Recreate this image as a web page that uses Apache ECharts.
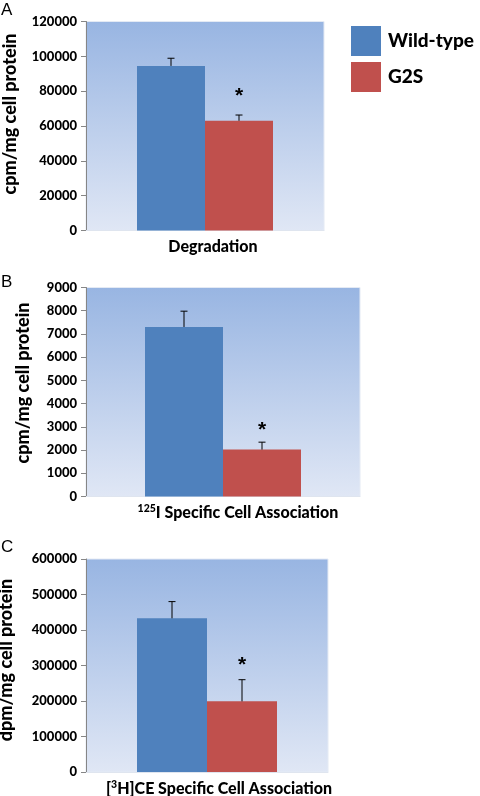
<!DOCTYPE html>
<html><head><meta charset="utf-8">
<script src="https://cdn.jsdelivr.net/npm/echarts@6/dist/echarts.min.js"></script>
<style>html,body{margin:0;padding:0;background:#fff}#c{width:480px;height:796px}</style>
</head><body><div id="c"></div>
<script>
// ---- data ----
const panelLetters = ['A', 'B', 'C'];
const categories = ['Degradation', '125I Specific Cell Association', '[3H]CE Specific Cell Association'];
const yAxisTitles = ['cpm/mg cell protein', 'cpm/mg cell protein', 'dpm/mg cell protein'];
const seriesNames = ['Wild-type', 'G2S'];
const wildType = [94500, 7300, 433000];
const wildTypeErr = [4400, 680, 47000];
const g2s = [63000, 2020, 199000];
const g2sErr = [3300, 320, 61000];
const sigMarkAt = [77000, 2850, 301000];
const yMax = [120000, 9000, 600000];
const yStep = [20000, 1000, 100000];

// ---- layout ----
const grids = [
  {left: 86, top: 21.5, width: 238, height: 209},
  {left: 86, top: 287.5, width: 274, height: 209},
  {left: 86, top: 559, width: 242, height: 213}
];
const barWidths = [68, 78, 70];
const labelShift = [16, 30, 24];
const nameGaps = [67, 54, 71];
const nameShiftUp = [24, 18, 11];
const letterTops = [2, 274, 539];
const colors = ['#4f81bd', '#c0504d'];
const FONT = 'Lato, "Open Sans", sans-serif';
const W = 900;

const bg = {
  type: 'linear', x: 0, y: 0, x2: 0, y2: 1,
  colorStops: [{offset: 0, color: '#98b5e2'}, {offset: 1, color: '#e0e7f5'}]
};

const catFormatter = [
  v => '{t|' + v + '}',
  v => '{sup|125}{t|I Specific Cell Association}',
  v => '{t|[}{sup|3}{t|H]CE Specific Cell Association}'
];

const option = {
  animation: false,
  backgroundColor: '#fff',
  legend: {
    data: seriesNames,
    orient: 'vertical',
    left: 346, top: 21,
    itemWidth: 30, itemHeight: 30, itemGap: 6,
    icon: 'rect',
    textStyle: {fontFamily: FONT, fontWeight: W, fontSize: 19, color: '#000', padding: [0, 0, 4, 2]}
  },
  graphic: panelLetters.map((l, i) => ({
    type: 'text', left: 1, top: letterTops[i],
    style: {text: l, font: '17px "Liberation Sans", Arial, sans-serif', fill: '#000'}
  })),
  grid: grids.map(g => Object.assign({show: true, containLabel: false, outerBoundsMode: 'none',
    backgroundColor: bg, borderColor: '#e4eaf4', borderWidth: 1}, g)),
  xAxis: grids.map((g, i) => ({
    type: 'category', gridIndex: i, data: [categories[i]],
    axisLine: {lineStyle: {color: '#dfe5ef'}},
    axisTick: {show: false},
    axisLabel: {
      margin: 7, interval: 0, formatter: catFormatter[i],
      padding: [0, 0, 0, labelShift[i]],
      rich: {
        t: {fontFamily: FONT, fontWeight: W, fontSize: 16, color: '#000', lineHeight: 19},
        sup: {fontFamily: FONT, fontWeight: W, fontSize: 10.5, color: '#000', verticalAlign: 'top', lineHeight: 12, padding: [0, 0, 6, 0]}
      }
    }
  })),
  yAxis: grids.map((g, i) => ({
    type: 'value', gridIndex: i, min: 0, max: yMax[i], interval: yStep[i],
    name: yAxisTitles[i], nameLocation: 'middle', nameRotate: 90, nameGap: nameGaps[i],
    nameTextStyle: {fontFamily: FONT, fontWeight: W, fontSize: 18, color: '#000',
      padding: [0, 0, 0, nameShiftUp[i]]},
    axisLine: {show: true, lineStyle: {color: '#868686'}},
    axisTick: {show: true, length: 5, lineStyle: {color: '#868686'}},
    splitLine: {show: false},
    axisLabel: {fontFamily: FONT, fontWeight: W, fontSize: 13, color: '#000', margin: 9,
      formatter: v => String(v)}
  })),
  series: []
};

grids.forEach((g, i) => {
  const vals = [wildType[i], g2s[i]];
  seriesNames.forEach((n, s) => {
    option.series.push({
      type: 'bar', name: n, xAxisIndex: i, yAxisIndex: i,
      data: [vals[s]], barWidth: barWidths[i], barGap: '0%',
      itemStyle: {color: colors[s]}
    });
  });
  const bw = barWidths[i];
  option.series.push({
    type: 'custom', xAxisIndex: i, yAxisIndex: i, silent: true, z: 5,
    data: [[0, wildType[i], wildTypeErr[i], 0], [0, g2s[i], g2sErr[i], 1]],
    renderItem: (params, api) => {
      const side = api.value(3);
      const base = api.coord([api.value(0), api.value(1)]);
      const end = api.coord([api.value(0), api.value(1) + api.value(2)]);
      const cx = base[0] + (side === 0 ? -bw / 2 : bw / 2);
      const st = {stroke: '#000', lineWidth: 1};
      return {type: 'group', children: [
        {type: 'line', shape: {x1: cx, y1: base[1], x2: cx, y2: end[1]}, style: st},
        {type: 'line', shape: {x1: cx - 3.5, y1: end[1], x2: cx + 3.5, y2: end[1]}, style: st}
      ]};
    }
  });
  option.series.push({
    type: 'custom', xAxisIndex: i, yAxisIndex: i, silent: true, z: 5,
    data: [[0, sigMarkAt[i]]],
    renderItem: (params, api) => {
      const p = api.coord([api.value(0), api.value(1)]);
      return {type: 'text', x: p[0] + bw / 2, y: p[1],
        style: {text: '*', font: 'bold 21px "Liberation Sans", Arial, sans-serif', fill: '#000', align: 'center', verticalAlign: 'middle'}};
    }
  });
});

const chart = echarts.init(document.getElementById('c'), null, {renderer: 'canvas'});
chart.setOption(option);
</script></body></html>
